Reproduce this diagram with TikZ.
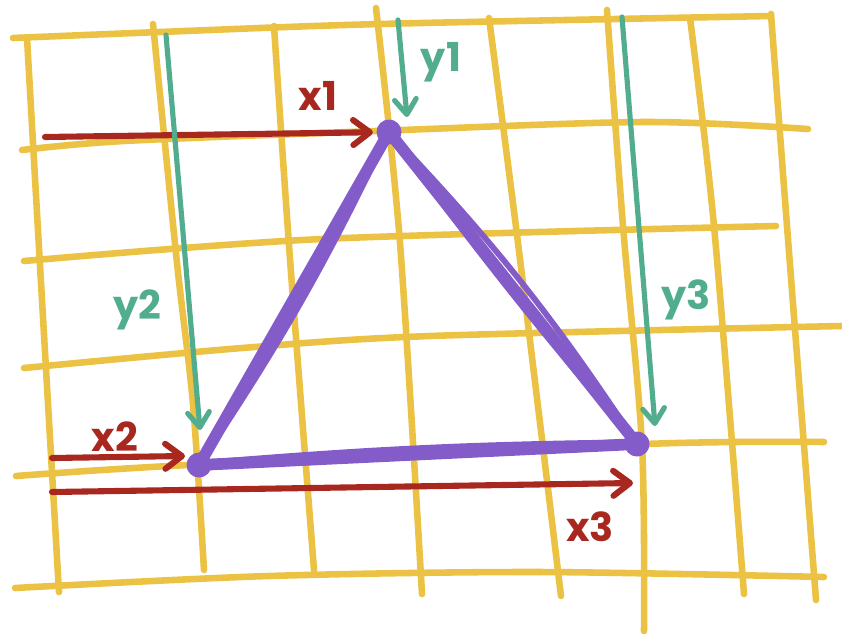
\documentclass[tikz,border=0pt]{standalone}
\usepackage{fontspec}
\setmainfont{Poppins}
\usepackage{xcolor}
\usetikzlibrary{arrows.meta,positioning}

\definecolor{gridyellow}{HTML}{EBC244}
\definecolor{arrred}{HTML}{A8271F}
\definecolor{arrgreen}{HTML}{52AD8F}
\definecolor{tripurple}{HTML}{845CC9}

\begin{document}
\begin{tikzpicture}[x=0.03cm, y=-0.03cm,
  gridline/.style={gridyellow, line width=5.6pt, line cap=round, line join=round},
  xarrow/.style={arrred, line width=5.2pt, line cap=round,
    -{Straight Barb[length=5mm,width=7.5mm,round]}},
  yarrow/.style={arrgreen, line width=4.4pt, line cap=round,
    -{Straight Barb[length=4.5mm,width=6.5mm,round]}},
  xlabel/.style={arrred, font=\fontsize{34}{38}\selectfont\bfseries},
  ylabel/.style={arrgreen, font=\fontsize{34}{38}\selectfont\bfseries},
  edge/.style={tripurple, line width=10pt, line cap=round, line join=round},
  vertex/.style={circle, fill=tripurple, inner sep=0pt, minimum size=7.5mm}]

  \useasboundingbox (0,0) rectangle (842,634);

  % Grid, rows
  \draw[gridline] plot[smooth] coordinates {(13,38) (160,32) (380,24) (771,16)};
  \draw[gridline] plot[smooth] coordinates {(22,150) (124,141) (376,131) (644,122) (808,129)};
  \draw[gridline] plot[smooth] coordinates {(24,261) (322,239) (776,226)};
  \draw[gridline] plot[smooth] coordinates {(24,368) (242,348) (430,336) (842,326)};
  \draw[gridline] plot[smooth] coordinates {(16,476) (188,465) (644,444) (824,442)};
  \draw[gridline] plot[smooth] coordinates {(15,588) (269,576) (537,572) (824,577)};

  % Grid, columns
  \draw[gridline] plot[smooth] coordinates {(27,38) (42,300) (59,592)};
  \draw[gridline] plot[smooth] coordinates {(153,24) (177,263) (193,404) (204,570)};
  \draw[gridline] plot[smooth] coordinates {(274,26) (290,259) (314,570)};
  \draw[gridline] plot[smooth] coordinates {(376,8) (400,243) (422,594)};
  \draw[gridline] plot[smooth] coordinates {(489,18) (518,243) (561,596)};
  \draw[gridline] plot[smooth] coordinates {(607,10) (623,226) (642,445) (644,631)};
  \draw[gridline] plot[smooth] coordinates {(690,18) (714,226) (744,594)};
  \draw[gridline] plot[smooth] coordinates {(771,14) (787,226) (816,600)};

  % Triangle corners
  \node[vertex] (top)   at (389,132) {};
  \node[vertex] (left)  at (199,465) {};
  \node[vertex] (right) at (637,444) {};

  % x distances
  \coordinate (x1s) at (45,137);
  \coordinate (x2s) at (52,458);
  \coordinate (x2e) at (185,456);
  \coordinate (x3s) at (52,492);
  \coordinate (x3e) at (633,483);
  \draw[xarrow, shorten >=1mm] (x1s) -- (top);
  \draw[xarrow] (x2s) -- (x2e);
  \draw[xarrow] (x3s) -- (x3e);

  % y distances
  \coordinate (y1s) at (398,20);
  \coordinate (y1e) at (407,117);
  \coordinate (y2s) at (166,35);
  \coordinate (y2e) at (200,430);
  \coordinate (y3s) at (622,17);
  \coordinate (y3e) at (655,426);
  \draw[yarrow] (y1s) -- (y1e);
  \draw[yarrow] (y2s) -- (y2e);
  \draw[yarrow] (y3s) -- (y3e);

  % Triangle
  \draw[edge] (top.center) -- (left.center) -- (right.center) -- cycle;
  \draw[edge, line width=5pt] (top.center) to[bend left=5] (right.center);
  \draw[edge, line width=5pt] (top.center) to[bend right=2] (right.center);
  \draw[edge, line width=5pt] (top.center) to[bend left=4] (left.center);
  \draw[edge, line width=8pt] (left.center) to[bend left=2] (right.center);

  % Labels
  \node[xlabel] (x1lab) at (318,96) {x1};
  \node[xlabel] (x2lab) at (115,437) {x2};
  \node[xlabel] (x3lab) at (590,527) {x3};
  \node[ylabel] (y1lab) at (441,62) {y1};
  \node[ylabel] (y2lab) at (137,310) {y2};
  \node[ylabel] (y3lab) at (686,300) {y3};

\end{tikzpicture}
\end{document}
